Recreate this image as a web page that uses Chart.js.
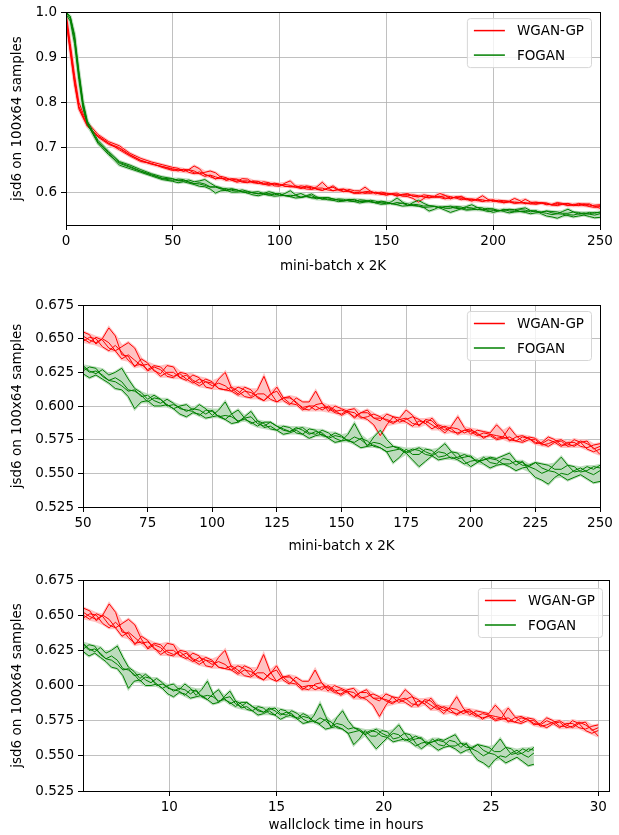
<!DOCTYPE html>
<html>
<head>
<meta charset="utf-8">
<script src="https://cdn.jsdelivr.net/npm/chart.js@4.4.0/dist/chart.umd.min.js"></script>
<style>
  body { margin: 0; background: #fff; }
  canvas { position: absolute; left: 0; }
</style>
</head>
<body>
<canvas id="c1" width="619" height="280" style="top:0"></canvas>
<canvas id="c2" width="619" height="280" style="top:280px"></canvas>
<canvas id="c3" width="619" height="275" style="top:560px"></canvas>
<script>
// mini-batch (x 2K) positions of the logged points
const batch = [0,2,4,6,8,10,15,20,25,30,35,40,45,
  50,55,60,65,70,75,80,85,90,95,100,105,110,115,120,125,130,135,140,145,150,
  155,160,165,170,175,180,185,190,195,200,205,210,215,220,225,230,235,240,245,250];
// in-between points from mini-batch 52.5 onwards
const batchMid = [52.5,57.5,62.5,67.5,72.5,77.5,82.5,87.5,92.5,97.5,102.5,107.5,112.5,117.5,122.5,127.5,132.5,137.5,142.5,147.5,
  152.5,157.5,162.5,167.5,172.5,177.5,182.5,187.5,192.5,197.5,202.5,207.5,212.5,217.5,222.5,227.5,232.5,237.5,242.5,247.5];

// WGAN-GP runs
const wgan1 = [1.0,0.93,0.86,0.80,0.775,0.755,0.728,0.712,0.703,0.686,0.675,0.667,0.661,
  0.655,0.646,0.658,0.638,0.629,0.632,0.624,0.629,0.619,0.621,0.613,0.625,0.609,0.612,0.604,0.611,0.601,0.603,0.611,0.596,
  0.598,0.591,0.597,0.589,0.592,0.597,0.585,0.589,0.580,0.592,0.579,0.581,0.586,0.574,0.578,0.572,0.577,0.571,0.575,0.568,0.568];
const wgan1Mid = [0.653,0.650,0.652,0.637,0.635,0.626,0.630,0.621,0.623,0.614,0.620,0.613,0.614,0.606,0.609,0.604,0.606,0.603,0.602,0.600,
  0.596,0.595,0.591,0.594,0.591,0.593,0.590,0.584,0.585,0.584,0.582,0.580,0.581,0.577,0.576,0.573,0.575,0.571,0.573,0.566];
const wgan2 = [0.99,0.92,0.85,0.79,0.768,0.750,0.722,0.706,0.697,0.682,0.670,0.662,0.657,
  0.650,0.651,0.643,0.644,0.643,0.626,0.627,0.621,0.624,0.617,0.618,0.612,0.614,0.607,0.622,0.603,0.606,0.598,0.601,0.598,
  0.594,0.598,0.590,0.578,0.592,0.590,0.590,0.591,0.582,0.583,0.582,0.576,0.578,0.584,0.574,0.576,0.570,0.574,0.571,0.572,0.564];
const wgan2Mid = [0.647,0.649,0.641,0.647,0.633,0.629,0.622,0.625,0.619,0.620,0.613,0.611,0.612,0.612,0.610,0.606,0.603,0.597,0.602,0.595,
  0.597,0.592,0.586,0.586,0.588,0.592,0.587,0.585,0.584,0.580,0.580,0.579,0.577,0.578,0.577,0.572,0.573,0.570,0.574,0.569];
const wgan3 = [0.98,0.91,0.84,0.785,0.765,0.746,0.725,0.709,0.694,0.680,0.668,0.664,0.655,
  0.648,0.650,0.641,0.640,0.630,0.627,0.629,0.622,0.620,0.620,0.615,0.615,0.608,0.610,0.604,0.614,0.602,0.597,0.600,0.600,
  0.593,0.595,0.592,0.592,0.587,0.588,0.589,0.583,0.584,0.580,0.583,0.577,0.575,0.577,0.573,0.575,0.572,0.575,0.570,0.574,0.570];
const wgan3Mid = [0.651,0.644,0.645,0.634,0.631,0.630,0.624,0.624,0.617,0.618,0.617,0.611,0.611,0.607,0.608,0.606,0.601,0.600,0.597,0.597,
  0.596,0.591,0.594,0.589,0.590,0.585,0.587,0.586,0.581,0.582,0.579,0.578,0.576,0.574,0.575,0.571,0.574,0.572,0.573,0.568];
const wgan4 = [0.985,0.915,0.845,0.79,0.77,0.748,0.724,0.708,0.699,0.683,0.671,0.663,0.657,
  0.652,0.647,0.647,0.635,0.634,0.631,0.622,0.625,0.623,0.615,0.617,0.612,0.611,0.606,0.609,0.603,0.607,0.599,0.597,0.599,
  0.597,0.592,0.595,0.591,0.588,0.591,0.586,0.586,0.585,0.579,0.581,0.580,0.576,0.575,0.577,0.573,0.575,0.570,0.573,0.569,0.572];
const wgan4Mid = [0.649,0.650,0.641,0.638,0.630,0.627,0.625,0.621,0.618,0.618,0.613,0.614,0.607,0.609,0.605,0.606,0.602,0.600,0.599,0.596,
  0.595,0.595,0.591,0.590,0.590,0.587,0.589,0.583,0.583,0.582,0.578,0.579,0.577,0.574,0.576,0.572,0.573,0.573,0.570,0.571];

// FOGAN runs
const fogan1 = [1.0,0.99,0.95,0.87,0.80,0.758,0.715,0.690,0.668,0.660,0.650,0.641,0.634,
  0.630,0.624,0.623,0.628,0.613,0.605,0.605,0.598,0.601,0.601,0.593,0.603,0.588,0.592,0.585,0.585,0.581,0.584,0.579,0.580,
  0.574,0.587,0.570,0.582,0.570,0.565,0.569,0.564,0.572,0.561,0.563,0.560,0.561,0.565,0.556,0.558,0.552,0.562,0.551,0.555,0.556];
const fogan1Mid = [0.626,0.627,0.625,0.620,0.610,0.608,0.601,0.600,0.597,0.598,0.597,0.594,0.591,0.587,0.588,0.582,0.583,0.580,0.582,0.576,
  0.579,0.578,0.577,0.575,0.568,0.567,0.566,0.568,0.566,0.562,0.558,0.562,0.563,0.559,0.556,0.554,0.557,0.556,0.552,0.553];
const fogan2 = [1.0,0.985,0.94,0.86,0.79,0.752,0.708,0.683,0.664,0.655,0.646,0.638,0.630,
  0.626,0.628,0.619,0.618,0.611,0.603,0.605,0.601,0.596,0.597,0.597,0.590,0.597,0.587,0.587,0.582,0.584,0.579,0.582,0.577,
  0.578,0.573,0.574,0.569,0.558,0.568,0.564,0.567,0.563,0.565,0.555,0.562,0.557,0.560,0.559,0.547,0.542,0.550,0.552,0.551,0.552];
const fogan2Mid = [0.629,0.622,0.621,0.612,0.608,0.606,0.600,0.599,0.598,0.594,0.592,0.594,0.591,0.589,0.583,0.585,0.580,0.583,0.578,0.580,
  0.574,0.576,0.570,0.566,0.562,0.564,0.568,0.562,0.566,0.559,0.558,0.558,0.561,0.556,0.552,0.545,0.547,0.549,0.554,0.549];
const fogan3 = [0.995,0.98,0.93,0.85,0.785,0.750,0.712,0.686,0.660,0.652,0.644,0.636,0.628,
  0.624,0.623,0.617,0.612,0.598,0.604,0.600,0.598,0.592,0.594,0.592,0.590,0.588,0.596,0.584,0.582,0.580,0.579,0.578,0.576,
  0.574,0.572,0.570,0.569,0.567,0.565,0.555,0.563,0.561,0.560,0.559,0.557,0.556,0.555,0.554,0.553,0.552,0.548,0.547,0.546,0.544];
const fogan3Mid = [0.621,0.620,0.613,0.607,0.603,0.600,0.601,0.594,0.595,0.591,0.593,0.587,0.592,0.589,0.585,0.579,0.582,0.576,0.579,0.573,
  0.575,0.569,0.571,0.566,0.568,0.560,0.559,0.560,0.562,0.557,0.560,0.554,0.557,0.552,0.555,0.550,0.551,0.545,0.549,0.543];
const fogan4 = [1.0,0.99,0.945,0.865,0.795,0.755,0.71,0.688,0.666,0.657,0.647,0.639,0.631,
  0.629,0.626,0.619,0.615,0.612,0.608,0.602,0.602,0.597,0.593,0.596,0.593,0.589,0.588,0.588,0.585,0.581,0.582,0.581,0.576,
  0.577,0.577,0.571,0.572,0.570,0.566,0.567,0.563,0.565,0.562,0.562,0.560,0.560,0.557,0.558,0.558,0.556,0.553,0.555,0.552,0.554];
const fogan4Mid = [0.625,0.623,0.618,0.611,0.607,0.604,0.605,0.598,0.596,0.597,0.592,0.592,0.590,0.585,0.588,0.583,0.584,0.579,0.580,0.578,
  0.574,0.575,0.573,0.569,0.569,0.568,0.564,0.566,0.561,0.564,0.559,0.561,0.557,0.559,0.555,0.557,0.553,0.556,0.551,0.555];

// wallclock hours for the points from mini-batch 50 onwards
const wganHours = [6.0,6.6,7.2,7.8,8.4,9.0,9.6,10.2,10.8,11.4,12.0,12.6,13.2,13.8,14.4,15.0,15.6,16.2,16.8,17.4,
  18.0,18.6,19.2,19.8,20.4,21.0,21.6,22.2,22.8,23.4,24.0,24.6,25.2,25.8,26.4,27.0,27.6,28.2,28.8,29.4,30.0];
const wganHoursMid = [6.3,6.9,7.5,8.1,8.7,9.3,9.9,10.5,11.1,11.7,12.3,12.9,13.5,14.1,14.7,15.3,15.9,16.5,17.1,17.7,
  18.3,18.9,19.5,20.1,20.7,21.3,21.9,22.5,23.1,23.7,24.3,24.9,25.5,26.1,26.7,27.3,27.9,28.5,29.1,29.7];
const foganHours = [6.0,6.53,7.05,7.58,8.1,8.63,9.15,9.68,10.2,10.73,11.25,11.78,12.3,12.83,13.35,13.88,14.4,14.93,15.45,15.98,
  16.5,17.03,17.55,18.08,18.6,19.13,19.65,20.18,20.7,21.23,21.75,22.28,22.8,23.33,23.85,24.38,24.9,25.43,25.95,26.48,27.0];
const foganHoursMid = [6.26,6.79,7.31,7.84,8.36,8.89,9.41,9.94,10.46,10.99,11.51,12.04,12.56,13.09,13.61,14.14,14.66,15.19,15.71,16.24,
  16.76,17.29,17.81,18.34,18.86,19.39,19.91,20.44,20.96,21.49,22.01,22.54,23.06,23.59,24.11,24.64,25.16,25.69,26.21,26.74];

// tick labels
const xTicksFull = [0,50,100,150,200,250];
const xTicksZoom = [50,75,100,125,150,175,200,225,250];
const xTicksHours = [10,15,20,25,30];
const yTicksFull = [0.6,0.7,0.8,0.9,1.0];
const yTicksZoom = [0.525,0.550,0.575,0.600,0.625,0.650,0.675];

const RED = '#ff0000', GREEN = '#008000';
const RED_FILL = '#ffc2c2', GREEN_FILL = '#bddcbd';
const FONT = "'DejaVu Sans', sans-serif";

Chart.defaults.font.family = FONT;
Chart.defaults.font.size = 13.5;
Chart.defaults.color = '#000';

const wganRuns = [[wgan1, wgan1Mid], [wgan2, wgan2Mid], [wgan3, wgan3Mid], [wgan4, wgan4Mid]];
const foganRuns = [[fogan1, fogan1Mid], [fogan2, fogan2Mid], [fogan3, fogan3Mid], [fogan4, fogan4Mid]];

function pts(xs, ys) { return xs.map((x, i) => ({ x: x, y: ys[i] })); }
// merge the logged points and the in-between points of one run, in x order
function runPts(xs, ys, mxs, mys) { return pts(xs, ys).concat(pts(mxs, mys)).sort((a, b) => a.x - b.x); }

function envelope(runs, fn) {
  return runs[0].map((p, i) => ({ x: p.x, y: fn(...runs.map(r => r[i].y)) }));
}

// run lines, then the min/max band of the runs (band drawn underneath via order)
function group(label, runs, color, fill, order) {
  const ds = runs.map(r => ({ label, data: r, borderColor: color, borderWidth: 1, pointRadius: 0, fill: false, order }));
  ds.push(
    { label, data: envelope(runs, Math.max), borderColor: fill, borderWidth: 3, pointRadius: 0, fill: false, order: 5 },
    { label, data: envelope(runs, Math.min), borderColor: fill, borderWidth: 3, pointRadius: 0, fill: '-1', backgroundColor: fill, order: 5 }
  );
  return ds;
}

const wganBatch = wganRuns.map(([r, m]) => runPts(batch, r, batchMid, m));
const foganBatch = foganRuns.map(([r, m]) => runPts(batch, r, batchMid, m));
const wganTime = wganRuns.map(([r, m]) => runPts(wganHours, r.slice(13), wganHoursMid, m));
const foganTime = foganRuns.map(([r, m]) => runPts(foganHours, r.slice(13), foganHoursMid, m));

// matplotlib-like frame round the plot area
const frame = {
  id: 'frame',
  afterDatasetsDraw(chart) {
    const { ctx, chartArea: a } = chart;
    ctx.save();
    ctx.strokeStyle = '#000';
    ctx.lineWidth = 1;
    ctx.strokeRect(Math.round(a.left) + 0.5, Math.round(a.top) + 0.5, Math.round(a.right - a.left), Math.round(a.bottom - a.top));
    ctx.restore();
  }
};

// legend box in the upper right corner
const boxLegend = {
  id: 'boxLegend',
  afterDraw(chart, args, opts) {
    const { ctx, chartArea: a } = chart;
    const items = [{ label: 'WGAN-GP', color: RED }, { label: 'FOGAN', color: GREEN }];
    ctx.save();
    ctx.font = '13.5px ' + FONT;
    const tw = Math.max(...items.map(it => ctx.measureText(it.label).width));
    const w = 50 + tw + 7, h = 49;
    const x = a.right - opts.dx - w, y = a.top + opts.dy;
    ctx.beginPath();
    ctx.roundRect(x + 0.5, y + 0.5, w, h, 3);
    ctx.fillStyle = 'rgba(255,255,255,0.8)';
    ctx.fill();
    ctx.strokeStyle = '#d6d6d6';
    ctx.lineWidth = 1;
    ctx.stroke();
    items.forEach((it, i) => {
      const cy = y + 12.5 + i * 24.5;
      ctx.beginPath();
      ctx.moveTo(x + 7, cy);
      ctx.lineTo(x + 38, cy);
      ctx.strokeStyle = it.color;
      ctx.lineWidth = 1.5;
      ctx.stroke();
      ctx.fillStyle = '#000';
      ctx.textBaseline = 'middle';
      ctx.fillText(it.label, x + 50, cy + 1);
    });
    ctx.restore();
  }
};

function makeChart(id, c) {
  const grid = { color: '#b0b0b0', lineWidth: 0.8, tickColor: '#000', tickLength: 5, tickWidth: 1 };
  return new Chart(document.getElementById(id), {
    type: 'line',
    data: { datasets: c.datasets },
    options: {
      responsive: false,
      animation: false,
      events: [],
      layout: { padding: c.pad },
      plugins: {
        legend: { display: false },
        tooltip: { enabled: false },
        filler: { drawTime: 'beforeDatasetsDraw' },
        boxLegend: c.legend
      },
      scales: {
        x: {
          type: 'linear', min: c.xMin, max: c.xMax,
          afterBuildTicks: s => { s.ticks = c.xTicks.map(v => ({ value: v })); },
          afterFit: s => { s.height = c.xh; },
          grid, border: { display: false },
          ticks: { padding: 3, maxRotation: 0, autoSkip: false, callback: v => String(v) },
          title: { display: true, text: c.xTitle, padding: { top: 0, bottom: c.xTitlePad } }
        },
        y: {
          type: 'linear', min: c.yMin, max: c.yMax,
          afterBuildTicks: s => { s.ticks = c.yTicks.map(v => ({ value: v })); },
          afterFit: s => { s.width = c.yw; },
          grid, border: { display: false },
          ticks: { padding: 4, autoSkip: false, callback: v => v.toFixed(c.yDec) },
          title: { display: true, text: 'jsd6 on 100x64 samples', padding: { top: 0, bottom: 0 } }
        }
      }
    },
    plugins: [frame, boxLegend]
  });
}

makeChart('c1', {
  datasets: [
    ...group('FOGAN', foganBatch, GREEN, GREEN_FILL, 0),
    ...group('WGAN-GP', wganBatch, RED, RED_FILL, 1)
  ],
  pad: { left: 9, right: 19, top: 12, bottom: 0 },
  yw: 57, xh: 55, xTitlePad: 5,
  xMin: 0, xMax: 250, xTicks: xTicksFull, xTitle: 'mini-batch x 2K',
  yMin: 0.527, yMax: 1.0, yTicks: yTicksFull, yDec: 1,
  legend: { dx: 9, dy: 6 }
});

makeChart('c2', {
  datasets: [
    ...group('FOGAN', foganBatch, GREEN, GREEN_FILL, 0),
    ...group('WGAN-GP', wganBatch, RED, RED_FILL, 1)
  ],
  pad: { left: 9, right: 19, top: 25, bottom: 0 },
  yw: 74, xh: 53, xTitlePad: 5,
  xMin: 50, xMax: 250, xTicks: xTicksZoom, xTitle: 'mini-batch x 2K',
  yMin: 0.525, yMax: 0.675, yTicks: yTicksZoom, yDec: 3,
  legend: { dx: 9, dy: 6 }
});

makeChart('c3', {
  datasets: [
    ...group('FOGAN', foganTime, GREEN, GREEN_FILL, 0),
    ...group('WGAN-GP', wganTime, RED, RED_FILL, 1)
  ],
  pad: { left: 9, right: 10, top: 20, bottom: 0 },
  yw: 74, xh: 44, xTitlePad: 1,
  xMin: 5.98, xMax: 30.5, xTicks: xTicksHours, xTitle: 'wallclock time in hours',
  yMin: 0.525, yMax: 0.675, yTicks: yTicksZoom, yDec: 3,
  legend: { dx: 7, dy: 8 }
});
</script>
</body>
</html>
